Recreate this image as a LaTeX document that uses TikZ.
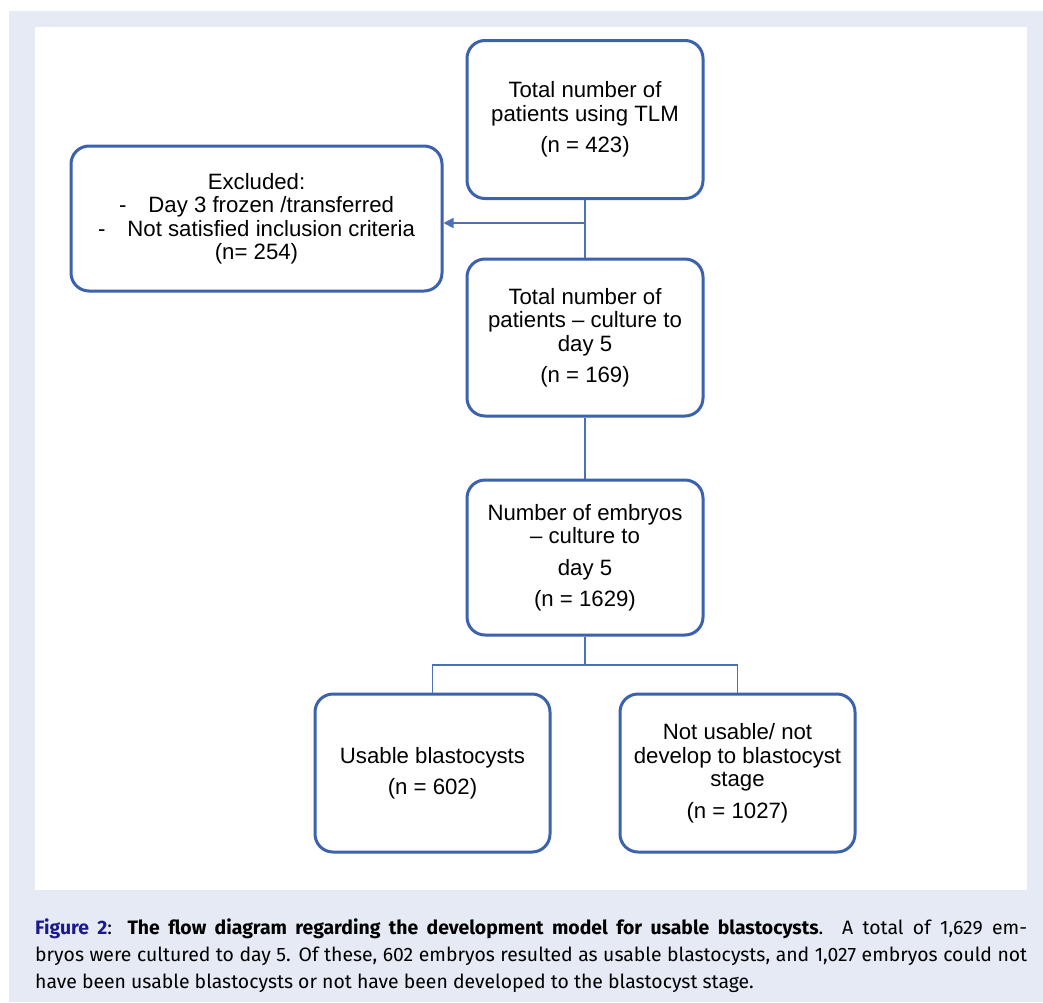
\documentclass[tikz,border=0pt]{standalone}
\usepackage{fontspec}
\setmainfont{Liberation Sans}
\newfontfamily\capfont{Fira Sans}
\usetikzlibrary{arrows.meta}
\definecolor{boxblue}{HTML}{3C61AD}
\definecolor{linkblue}{HTML}{4C70B6}
\definecolor{pagebg}{HTML}{E6EAF5}
\definecolor{navyfig}{HTML}{1A1A8E}
\tikzset{
  flowbox/.style={draw=boxblue, line width=3pt, rounded corners=18pt, fill=white,
    align=center, inner sep=0pt, font=\fontsize{22.2}{23.5}\selectfont, text=black},
  link/.style={draw=linkblue, line width=1.8pt},
  captext/.style={anchor=base west, inner sep=0pt, font=\capfont\fontsize{19.4}{22}\selectfont, text=black}
}
\begin{document}
\begin{tikzpicture}[x=1pt,y=-1pt]
\useasboundingbox (0,0) rectangle (1043,1002);
\fill[pagebg] (9,11) rectangle (1043,1002);
\fill[white] (35,27) rectangle (1027,890);

\node[flowbox, minimum width=236pt, minimum height=158pt] (tlm) at (585,119.5)
  {Total number of\\patients using TLM\\[8pt](n = 423)};
\node[flowbox, minimum width=371pt, minimum height=145pt] (excl) at (256.5,218.5)
  {Excluded:\\-\hspace{22pt}Day 3 frozen /transferred\\-\hspace{22pt}Not satisfied inclusion criteria\\(n= 254)};
\node[flowbox, minimum width=236pt, minimum height=157pt] (pat) at (585,337.5)
  {Total number of\\patients -- culture to\\day 5\\[8pt](n = 169)};
\node[flowbox, minimum width=236pt, minimum height=155pt] (emb) at (585,557.5)
  {Number of embryos\\-- culture to\\[8pt]day 5\\[8pt](n = 1629)};
\node[flowbox, minimum width=235pt, minimum height=158pt] (usable) at (432.5,773)
  {Usable blastocysts\\[8pt](n = 602)};
\node[flowbox, minimum width=235pt, minimum height=158pt] (notus) at (737.5,773)
  {Not usable/ not\\develop to blastocyst\\stage\\[8pt](n = 1027)};

\coordinate (split) at (585,223);
\coordinate (fork) at (585,665);
\draw[link] (tlm.south) -- (pat.north);
\draw[link, -{Triangle[length=10pt,width=10pt]}] (split) -- (split -| excl.east);
\draw[link] (pat.south) -- (emb.north);
\draw[link] (emb.south) -- (fork);
\draw[link] (usable.north) |- (fork) -| (notus.north);

\node[captext] (cap1) at (35,934) {\makebox[992pt][s]{\textcolor{navyfig}{\bfseries Figure 2}: \textbf{The flow diagram regarding the development model for usable blastocysts}.\ \ A total of 1,629 em-}};
\node[captext] (cap2) at (35,961) {\makebox[992pt][s]{bryos were cultured to day 5. Of these, 602 embryos resulted as usable blastocysts, and 1,027 embryos could not}};
\node[captext] (cap3) at (35,988) {have been usable blastocysts or not have been developed to the blastocyst stage.};
\end{tikzpicture}
\end{document}
